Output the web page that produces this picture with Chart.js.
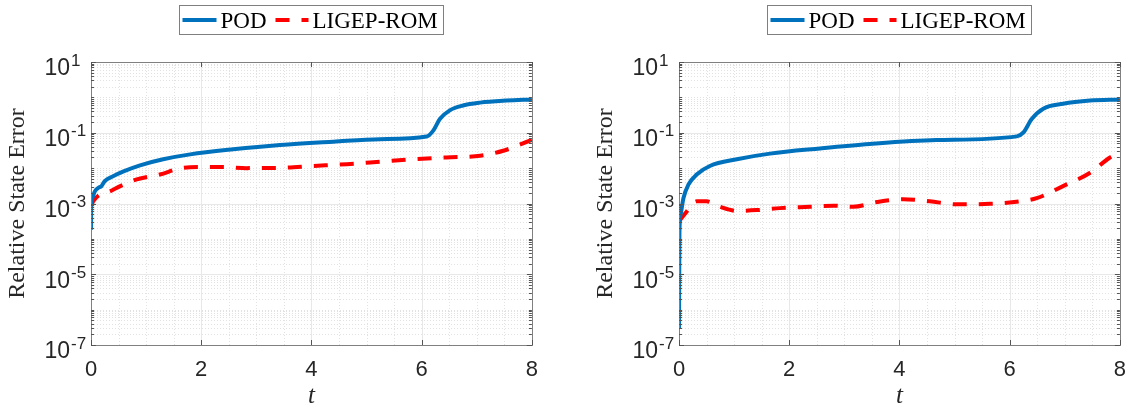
<!DOCTYPE html>
<html>
<head>
<meta charset="utf-8">
<script src="https://cdn.jsdelivr.net/npm/chart.js@4.4.0/dist/chart.umd.min.js"></script>
<style>
  html, body { margin: 0; padding: 0; background: #fff; overflow: hidden; }
  #wrap { position: relative; width: 1130px; height: 409px; }
  canvas { position: absolute; top: 0; }
</style>
</head>
<body>
<div id="wrap">
  <canvas id="leftChart" width="542" height="409" style="left:0px"></canvas>
  <canvas id="rightChart" width="542" height="409" style="left:588px"></canvas>
</div>
<script>
// names and ticks
const seriesNames = ["POD", "LIGEP-ROM"];
const yTickPowers = [1, -1, -3, -5, -7];
const xTickValues = [0, 2, 4, 6, 8];

// left panel
const tPodLeft = [0, 0.002, 0.01, 0.07, 0.13, 0.19, 0.25, 0.40, 0.59, 0.89, 1.31, 1.80, 2.58, 3.43, 4.40, 5.24, 6.09, 6.21, 6.33, 6.51, 6.75, 7.06, 7.54, 8.0];
const podLeft = [1.8e-4, 9.1e-4, 1.26e-3, 2.2e-3, 2.75e-3, 3.1e-3, 4.3e-3, 5.9e-3, 8.1e-3, 1.2e-2, 1.78e-2, 2.45e-2, 3.4e-2, 4.5e-2, 5.6e-2, 6.6e-2, 7.8e-2, 0.115, 0.245, 0.43, 0.59, 0.71, 0.81, 0.87];
const tRomLeft = [0, 0.04, 0.16, 0.34, 0.53, 0.83, 1.25, 1.61, 1.98, 2.40, 2.82, 3.43, 4.03, 4.64, 5.24, 5.85, 6.45, 7.06, 7.48, 8.0];
const romLeft = [8.1e-4, 1.15e-3, 1.78e-3, 2.2e-3, 3.1e-3, 4.8e-3, 6.6e-3, 9.8e-3, 1.07e-2, 1.07e-2, 1.0e-2, 1.02e-2, 1.15e-2, 1.29e-2, 1.51e-2, 1.78e-2, 2.0e-2, 2.24e-2, 3.1e-2, 6.3e-2];

// right panel
const tPodRight = [0, 0.008, 0.03, 0.08, 0.17, 0.32, 0.56, 1.05, 1.65, 2.56, 3.46, 4.67, 6.13, 6.25, 6.40, 6.61, 6.97, 7.46, 8.0];
const podRight = [3.0e-7, 1.5e-4, 5.0e-4, 1.41e-3, 3.4e-3, 6.6e-3, 1.15e-2, 1.78e-2, 2.57e-2, 3.6e-2, 4.8e-2, 6.2e-2, 7.9e-2, 0.102, 0.245, 0.48, 0.66, 0.81, 0.87];
const tRomRight = [0, 0.14, 0.32, 0.50, 0.74, 1.05, 1.41, 1.83, 2.38, 2.80, 3.16, 3.59, 4.07, 4.55, 5.04, 5.64, 6.19, 6.49, 6.97, 7.46, 7.82, 8.0];
const romRight = [3.1e-4, 5.9e-4, 1.15e-3, 1.15e-3, 8.1e-4, 6.2e-4, 6.5e-4, 7.4e-4, 8.1e-4, 8.7e-4, 8.1e-4, 1.1e-3, 1.32e-3, 1.15e-3, 9.5e-4, 9.8e-4, 1.15e-3, 1.41e-3, 3.1e-3, 7.4e-3, 2.0e-2, 2.75e-2];

const podColor = "#0072BD";
const romColor = "#FF0000";
const romDash = [14, 12];
const axisColor = "#808080";
const textColor = "#262626";

function toPoints(ts, vs) {
    return ts.map((t, i) => ({ x: t, y: vs[i] }));
}

function line(ctx, x1, y1, x2, y2) {
    ctx.beginPath();
    ctx.moveTo(x1, y1);
    ctx.lineTo(x2, y2);
    ctx.stroke();
}

// grid, box, ticks, labels and legend drawn around the library scales
const axesDecor = {
    id: "axesDecor",
    beforeDatasetsDraw(chart) {
        const { ctx, chartArea: a, scales: { x, y } } = chart;
        ctx.save();
        ctx.lineWidth = 1;

        // minor grid
        ctx.strokeStyle = "#e2e2e2";
        ctx.setLineDash([1, 2]);
        for (let e = -7; e < 1; e++) {
            for (let k = 2; k < 10; k++) {
                const py = Math.round(y.getPixelForValue(k * Math.pow(10, e))) + 0.5;
                line(ctx, a.left, py, a.right, py);
            }
        }
        for (let e = -7; e <= 1; e++) {
            const py = Math.round(y.getPixelForValue(Math.pow(10, e))) + 0.5;
            line(ctx, a.left, py, a.right, py);
        }
        for (let v = 0.5; v < 8; v += 0.5) {
            const px = Math.round(x.getPixelForValue(v)) + 0.5;
            line(ctx, px, a.top, px, a.bottom);
        }

        // major grid
        ctx.setLineDash([]);
        ctx.strokeStyle = "#e8e8e8";
        xTickValues.forEach((v) => {
            const px = Math.round(x.getPixelForValue(v)) + 0.5;
            line(ctx, px, a.top, px, a.bottom);
        });
        yTickPowers.forEach((p) => {
            const py = Math.round(y.getPixelForValue(Math.pow(10, p))) + 0.5;
            line(ctx, a.left, py, a.right, py);
        });
        ctx.restore();
    },
    afterDatasetsDraw(chart) {
        const { ctx, chartArea: a, scales: { x, y } } = chart;
        ctx.save();
        ctx.lineWidth = 1;
        ctx.setLineDash([]);

        // axes box
        ctx.strokeStyle = axisColor;
        ctx.strokeRect(Math.round(a.left) + 0.5, Math.round(a.top) + 0.5, Math.round(a.right - a.left), Math.round(a.bottom - a.top));

        // ticks pointing inward
        ctx.strokeStyle = "#555";
        for (let e = -7; e < 1; e++) {
            for (let k = 2; k < 10; k++) {
                const py = Math.round(y.getPixelForValue(k * Math.pow(10, e))) + 0.5;
                line(ctx, a.left, py, a.left + 3, py);
                line(ctx, a.right, py, a.right - 3, py);
            }
        }
        for (let e = -7; e <= 1; e++) {
            const py = Math.round(y.getPixelForValue(Math.pow(10, e))) + 0.5;
            const len = yTickPowers.includes(e) ? 5 : 3;
            line(ctx, a.left, py, a.left + len, py);
            line(ctx, a.right, py, a.right - len, py);
        }
        xTickValues.forEach((v) => {
            const px = Math.round(x.getPixelForValue(v)) + 0.5;
            line(ctx, px, a.bottom, px, a.bottom - 5);
            line(ctx, px, a.top, px, a.top + 5);
        });

        // y tick labels with exponents
        ctx.fillStyle = textColor;
        ctx.textBaseline = "middle";
        yTickPowers.forEach((p) => {
            const py = y.getPixelForValue(Math.pow(10, p));
            ctx.font = "23px 'Liberation Sans', Arial, sans-serif";
            ctx.textAlign = "right";
            ctx.fillText("10", a.left - 21, py + 7);
            ctx.font = "17px 'Liberation Sans', Arial, sans-serif";
            ctx.textAlign = "left";
            ctx.fillText(String(p), a.left - 20, py - 1);
        });

        // axis titles
        const cx = (a.left + a.right) / 2;
        const cy = (a.top + a.bottom) / 2;
        ctx.font = "italic 25px 'Liberation Serif', 'Times New Roman', serif";
        ctx.textAlign = "center";
        ctx.textBaseline = "alphabetic";
        ctx.fillText("t", cx, 403);
        ctx.save();
        ctx.translate(18, cy);
        ctx.rotate(-Math.PI / 2);
        ctx.font = "24px 'Liberation Serif', 'Times New Roman', serif";
        ctx.textBaseline = "middle";
        ctx.fillText("Relative State Error", 0, 0);
        ctx.restore();

        // legend box
        const bx = Math.round(cx - 132) + 0.5;
        ctx.fillStyle = "#fff";
        ctx.fillRect(bx, 5.5, 264, 29);
        ctx.strokeStyle = "#7f7f7f";
        ctx.strokeRect(bx, 5.5, 264, 29);
        ctx.lineWidth = 4;
        ctx.strokeStyle = podColor;
        line(ctx, bx + 3, 20, bx + 37, 20);
        ctx.strokeStyle = romColor;
        ctx.setLineDash(romDash);
        line(ctx, bx + 96, 20, bx + 129, 20);
        ctx.setLineDash([]);
        ctx.fillStyle = "#000";
        ctx.font = "23px 'Liberation Serif', 'Times New Roman', serif";
        ctx.textAlign = "left";
        ctx.fillText(seriesNames[0], bx + 41, 28);
        ctx.fillText(seriesNames[1], bx + 133, 28);
        ctx.restore();
    }
};

function makeChart(canvasId, tPod, pod, tRom, rom) {
    const ctx = document.getElementById(canvasId).getContext("2d");
    return new Chart(ctx, {
        type: "line",
        data: {
            datasets: [
                {
                    label: seriesNames[0],
                    data: toPoints(tPod, pod),
                    borderColor: podColor,
                    borderWidth: 4,
                    pointRadius: 0,
                    cubicInterpolationMode: "monotone",
                    fill: false,
                },
                {
                    label: seriesNames[1],
                    data: toPoints(tRom, rom),
                    borderColor: romColor,
                    borderWidth: 4,
                    borderDash: romDash,
                    pointRadius: 0,
                    cubicInterpolationMode: "monotone",
                    fill: false,
                },
            ],
        },
        options: {
            responsive: false,
            animation: false,
            layout: { padding: { top: 62, right: 2, left: 0, bottom: 0 } },
            plugins: { legend: { display: false }, tooltip: { enabled: false } },
            scales: {
                x: {
                    type: "linear",
                    min: 0,
                    max: 8,
                    grid: { display: false },
                    border: { display: false },
                    ticks: {
                        stepSize: 2,
                        padding: 4,
                        color: textColor,
                        font: { family: "'Liberation Sans', Arial, sans-serif", size: 22 },
                    },
                    afterFit: (scale) => { scale.height = 64; },
                },
                y: {
                    type: "logarithmic",
                    min: 1e-7,
                    max: 10,
                    grid: { display: false },
                    border: { display: false },
                    ticks: { display: false },
                    afterFit: (scale) => { scale.width = 91; },
                },
            },
        },
        plugins: [axesDecor],
    });
}

makeChart("leftChart", tPodLeft, podLeft, tRomLeft, romLeft);
makeChart("rightChart", tPodRight, podRight, tRomRight, romRight);
</script>
</body>
</html>
